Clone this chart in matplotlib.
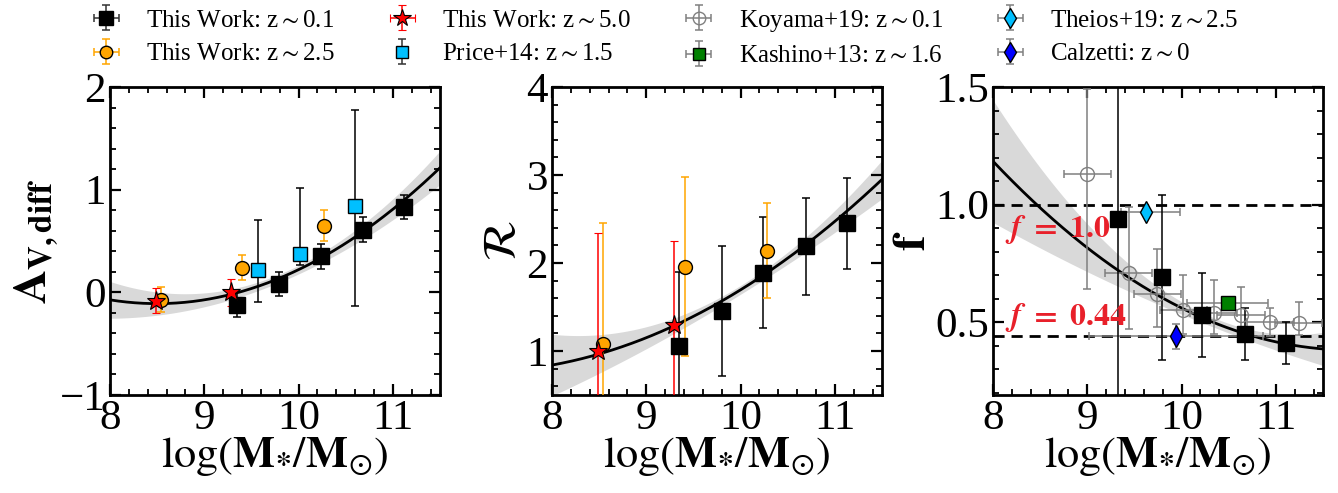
import matplotlib
matplotlib.use("Agg")
import matplotlib.pyplot as plt
import numpy as np

plt.rcParams['font.family'] = ['Liberation Serif', 'DejaVu Serif']
plt.rcParams['mathtext.fontset'] = 'stix'
plt.rcParams['font.size'] = 30
plt.rcParams['axes.linewidth'] = 2.0
for ax_ in ('xtick', 'ytick'):
    plt.rcParams[ax_ + '.direction'] = 'in'
    plt.rcParams[ax_ + '.major.size'] = 8
    plt.rcParams[ax_ + '.minor.size'] = 4
    plt.rcParams[ax_ + '.major.width'] = 1.6
    plt.rcParams[ax_ + '.minor.width'] = 1.3
plt.rcParams['xtick.top'] = True
plt.rcParams['ytick.right'] = True

# ---- panel 1: A_V,diff ----
av_x01 = [9.35, 9.79, 10.24, 10.68, 11.12]
av_y01 = [-0.12, 0.08, 0.35, 0.61, 0.83]
av_e01 = [0.12, 0.12, 0.12, 0.12, 0.12]
av_x25 = [8.54, 9.40, 10.27]
av_y25 = [-0.07, 0.24, 0.65]
av_e25 = [0.12, 0.12, 0.15]
av_x50 = [8.49, 9.28]
av_y50 = [-0.08, 0.0]
av_e50 = [0.12, 0.13]
price_x = [9.57, 10.02, 10.60]
price_y = [0.22, 0.37, 0.84]
price_elo = [0.31, 0.10, 0.97]
price_ehi = [0.48, 0.65, 0.94]
av_fit = [-0.11, 0.147, 8.5]          # c, a, x0 : c + a (x - x0)^2
av_band = [0.04, 0.043, 9.8]          # b0, b2, xm
av_ticks = [-1, 0, 1, 2]

# ---- panel 2: R ----
r_x01 = [9.35, 9.80, 10.24, 10.69, 11.13]
r_y01 = [1.06, 1.46, 1.89, 2.19, 2.46]
r_elo01 = [1.0, 0.74, 0.63, 0.55, 0.53]
r_ehi01 = [0.84, 0.73, 0.63, 0.55, 0.51]
r_x25 = [8.54, 9.41, 10.28]
r_y25 = [1.08, 1.96, 2.14]
r_e25 = [1.38, 1.02, 0.54]
r_x50 = [8.49, 9.29]
r_y50 = [1.00, 1.29]
r_e50 = [1.34, 0.96]
r_fit = [0.84, 0.194, 0.1168, 8.0]    # a, b, c, x0 : a + b dx + c dx^2
r_band = [0.05, 0.075, 10.0]
r_ticks = [1, 2, 3, 4]

# ---- panel 3: f ----
f_x01 = [9.33, 9.79, 10.22, 10.67, 11.11]
f_y01 = [0.94, 0.69, 0.53, 0.45, 0.41]
f_e01 = [1.2, 0.35, 0.18, 0.11, 0.09]
koy_x = [9.00, 9.44, 9.74, 10.02, 10.34, 10.63, 10.94, 11.24]
koy_y = [1.13, 0.71, 0.62, 0.55, 0.54, 0.53, 0.50, 0.495]
koy_elo = [0.49, 0.24, 0.14, 0.10, 0.09, 0.09, 0.06, 0.05]
koy_ehi = [0.36, 0.28, 0.19, 0.15, 0.14, 0.12, 0.06, 0.09]
koy_xe = [0.25, 0.25, 0.25, 0.25, 0.25, 0.25, 0.25, 0.25]
kash_x, kash_y, kash_xe = [10.49], [0.58], [0.43]
theios_x, theios_y, theios_xlo, theios_xhi = [9.62], [0.97], [0.26], [0.36]
calz_x, calz_y, calz_xe, calz_ye = [9.94], [0.44], [0.92], [0.053]
f_fit = [1.184, -0.424, 0.056, 8.0]
f_band = [0.02, 0.0417, 10.4]
f_lines = [1.0, 0.44]
f_labels = [r'$\mathbfit{f}\mathbf{\ =\ 1.0}$', r'$\mathbfit{f}\mathbf{\ =\ 0.44}$']
f_ticks = [0.5, 1.0, 1.5]
f_ticklabels = ['0.5', '1.0', '1.5']

c_orange = 'orange'
c_cyan = '#00BFFF'
c_band = '#d9d9d9'
c_text = '#e8202a'

fig = plt.figure(figsize=(13.38, 4.93), dpi=100)
lefts = [0.0822, 0.4126, 0.7422]
axes = [fig.add_axes([l, 0.1988, 0.2466, 0.6247]) for l in lefts]

xx = np.linspace(8, 11.5, 200)


def quad(p, x):
    if len(p) == 3:
        return p[0] + p[1] * (x - p[2]) ** 2
    return p[0] + p[1] * (x - p[3]) + p[2] * (x - p[3]) ** 2


def draw_fit(ax, fit, band):
    yy = quad(fit, xx)
    hw = quad(band, xx)
    ax.fill_between(xx, yy - hw, yy + hw, color=c_band, lw=0, zorder=1)
    ax.plot(xx, yy, color='black', lw=2, zorder=2)


eb = dict(ls='none', capsize=3, elinewidth=1.1, capthick=1.1, zorder=4)

# panel 1
ax = axes[0]
draw_fit(ax, av_fit, av_band)
ax.errorbar(av_x01, av_y01, yerr=av_e01, fmt='s', ms=11, color='black', ecolor='black', **eb)
ax.errorbar(av_x25, av_y25, yerr=av_e25, fmt='o', ms=10, mfc=c_orange, mec='black', ecolor=c_orange, **eb)
ax.errorbar(av_x50, av_y50, yerr=av_e50, fmt='*', ms=14, mfc='red', mec='black', mew=0.8, ecolor='red', **eb)
ax.errorbar(price_x, price_y, yerr=[price_elo, price_ehi], fmt='s', ms=10, mfc=c_cyan, mec='black', ecolor='black', **eb)
ax.set_xlim(8, 11.5)
ax.set_ylim(-1, 2)
ax.set_yticks(av_ticks)
ax.set_ylabel(r'$\mathbf{A_{V,diff}}$', fontsize=34, labelpad=0)

# panel 2
ax = axes[1]
draw_fit(ax, r_fit, r_band)
ax.errorbar(r_x01, r_y01, yerr=[r_elo01, r_ehi01], fmt='s', ms=11, color='black', ecolor='black', **eb)
ax.errorbar(r_x25, r_y25, yerr=r_e25, fmt='o', ms=10, mfc=c_orange, mec='black', ecolor=c_orange, **eb)
ax.errorbar(r_x50, r_y50, yerr=r_e50, fmt='*', ms=14, mfc='red', mec='black', mew=0.8, ecolor='red', **eb)
ax.set_xlim(8, 11.5)
ax.set_ylim(0.5, 4)
ax.set_yticks(r_ticks)
ax.set_ylabel(r'$\mathcal{R}$', fontsize=34, labelpad=0)

# panel 3
ax = axes[2]
draw_fit(ax, f_fit, f_band)
for yl in f_lines:
    ax.axhline(yl, color='black', ls='--', lw=2, dashes=(4, 2.5), zorder=3)
ax.errorbar(koy_x, koy_y, xerr=koy_xe, yerr=[koy_elo, koy_ehi], fmt='o', ms=10, mfc='none', mec='grey', ecolor='grey', **eb)
ax.errorbar(calz_x, calz_y, xerr=calz_xe, yerr=calz_ye, fmt='d', ms=11, mfc='blue', mec='black', ecolor='grey', **eb)
ax.errorbar(theios_x, theios_y, xerr=[theios_xlo, theios_xhi], fmt='d', ms=11, mfc=c_cyan, mec='black', ecolor='grey', **eb)
ax.errorbar(kash_x, kash_y, xerr=kash_xe, fmt='s', ms=10, mfc='green', mec='black', ecolor='grey', **eb)
ax.errorbar(f_x01, f_y01, yerr=f_e01, fmt='s', ms=11, color='black', ecolor='black', **eb)
ax.text(8.13, 0.895, f_labels[0], color=c_text, fontsize=23, va='center', zorder=5)
ax.text(8.13, 0.52, f_labels[1], color=c_text, fontsize=23, va='center', zorder=5)
ax.set_xlim(8, 11.5)
ax.set_ylim(0.19, 1.5)
ax.set_yticks(f_ticks)
ax.set_yticklabels(f_ticklabels)
ax.set_ylabel(r'$\mathbf{f}$', fontsize=34, labelpad=0)

minor_y = [0.2, 0.2, 0.1]
for ax, my in zip(axes, minor_y):
    ax.set_xticks([8, 9, 10, 11])
    ax.xaxis.set_minor_locator(matplotlib.ticker.MultipleLocator(0.2))
    ax.yaxis.set_minor_locator(matplotlib.ticker.MultipleLocator(my))
    ax.tick_params(which='both', top=True, right=True, labelsize=31, pad=3)
    ax.set_xlabel(r'$\log(\mathbf{M}_{\mathbf{*}}/\mathbf{M}_{\odot})$', fontsize=32, labelpad=-2)

# legend proxies
nan = [np.nan]
leg_eb = dict(ls='none', capsize=3, elinewidth=1.1, capthick=1.1)
h = [
    axes[2].errorbar(nan, nan, xerr=1, yerr=1, fmt='s', ms=10, color='black', ecolor='#333333', **leg_eb),
    axes[2].errorbar(nan, nan, xerr=1, yerr=1, fmt='o', ms=9, mfc=c_orange, mec='black', ecolor=c_orange, **leg_eb),
    axes[2].errorbar(nan, nan, xerr=1, yerr=1, fmt='*', ms=13, mfc='red', mec='black', mew=0.8, ecolor='red', **leg_eb),
    axes[2].errorbar(nan, nan, yerr=1, fmt='s', ms=9, mfc=c_cyan, mec='black', ecolor='#333333', **leg_eb),
    axes[2].errorbar(nan, nan, xerr=1, yerr=1, fmt='o', ms=9, mfc='none', mec='grey', ecolor='grey', **leg_eb),
    axes[2].errorbar(nan, nan, xerr=1, yerr=1, fmt='s', ms=9, mfc='green', mec='black', ecolor='grey', **leg_eb),
    axes[2].errorbar(nan, nan, xerr=1, yerr=1, fmt='d', ms=10, mfc=c_cyan, mec='black', ecolor='grey', **leg_eb),
    axes[2].errorbar(nan, nan, xerr=1, yerr=1, fmt='d', ms=10, mfc='blue', mec='black', ecolor='grey', **leg_eb),
]
labels = [r'This Work: z$\sim$0.1', r'This Work: z$\sim$2.5', r'This Work: z$\sim$5.0',
          r'Price+14: z$\sim$1.5', r'Koyama+19: z$\sim$0.1', r'Kashino+13: z$\sim$1.6',
          r'Theios+19: z$\sim$2.5', r'Calzetti: z$\sim$0']
fig.legend(h, labels, loc='upper center', bbox_to_anchor=(0.495, 1.03), ncol=4, frameon=False,
           fontsize=18, handletextpad=0.8, columnspacing=1.9, labelspacing=0.45, handlelength=1.6)

fig.savefig('out.png', dpi=100)
